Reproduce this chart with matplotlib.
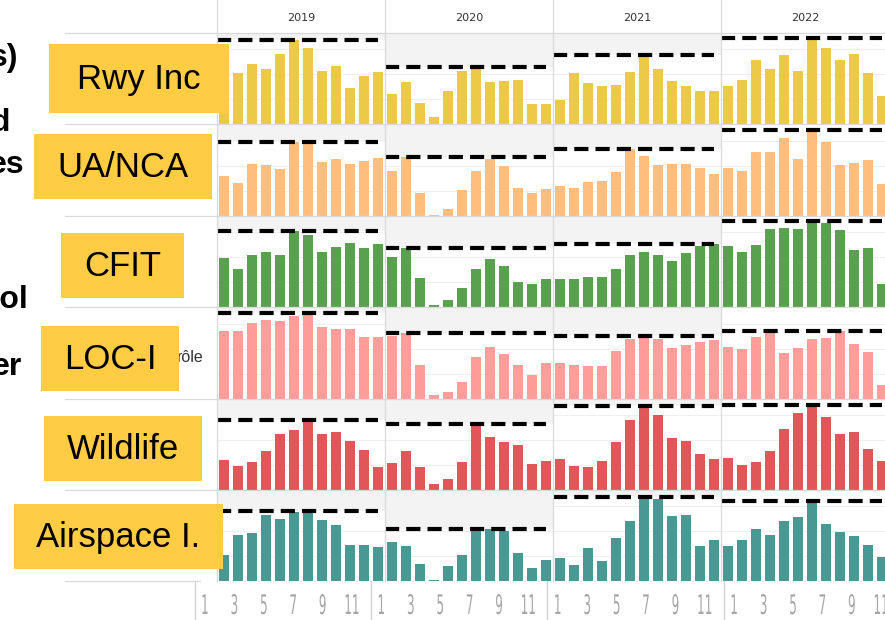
import numpy as np
import matplotlib
matplotlib.use("Agg")
import matplotlib.pyplot as plt
from matplotlib.patches import Rectangle, PathPatch
from matplotlib.textpath import TextPath
from matplotlib.font_manager import FontProperties
from matplotlib.transforms import Affine2D

# ---------------------------------------------------------------
# Data (monthly counts, 2019-2022, one list of 48 per category)
# ---------------------------------------------------------------
years = [2019, 2020, 2021, 2022]
months = list(range(1, 13))
tick_months = [1, 3, 5, 7, 9, 11]

categories = ["Rwy Inc", "UA/NCA", "CFIT", "LOC-I", "Wildlife", "Airspace I."]
colors = ["#EDC948", "#FFBE7D", "#59A14F", "#FF9D9A", "#E15759", "#499894"]

rwy_inc = [45, 51, 60, 55, 70, 84, 76, 53, 58, 36, 48, 52,
           30, 42, 21, 7, 33, 53, 57, 42, 43, 44, 20, 20,
           24, 51, 41, 38, 39, 52, 69, 55, 43, 38, 33, 33,
           38, 44, 64, 55, 69, 53, 86, 76, 64, 70, 51, 28]
ua_nca = [40, 33, 52, 51, 47, 74, 74, 54, 57, 52, 55, 58,
          45, 59, 23, 1, 7, 26, 45, 57, 50, 28, 23, 27,
          30, 28, 34, 35, 44, 67, 60, 51, 52, 52, 48, 42,
          48, 45, 64, 64, 78, 57, 86, 74, 51, 53, 56, 32]
cfit = [49, 38, 52, 55, 52, 76, 72, 55, 60, 64, 59, 63,
        50, 59, 29, 2, 7, 19, 38, 48, 41, 25, 23, 28,
        28, 28, 30, 30, 38, 52, 55, 52, 46, 54, 61, 63,
        61, 55, 62, 78, 79, 78, 86, 84, 77, 57, 59, 23]
loc_i = [68, 68, 76, 79, 78, 83, 86, 72, 70, 70, 62, 62,
         63, 66, 34, 4, 7, 17, 42, 52, 45, 34, 24, 36,
         36, 34, 33, 33, 48, 60, 63, 60, 51, 54, 57, 59,
         52, 50, 62, 67, 46, 51, 60, 61, 68, 55, 47, 14]
wildlife = [30, 24, 28, 39, 56, 60, 70, 56, 58, 49, 40, 23,
            27, 39, 23, 6, 11, 28, 66, 53, 48, 45, 26, 29,
            31, 24, 23, 29, 48, 70, 84, 75, 52, 49, 36, 31,
            32, 25, 28, 39, 61, 77, 85, 73, 56, 58, 41, 29]
airspace = [26, 46, 48, 66, 62, 69, 70, 61, 56, 36, 36, 34,
            39, 35, 17, 1, 15, 26, 52, 52, 50, 28, 13, 21,
            23, 16, 33, 20, 43, 60, 84, 82, 65, 66, 35, 41,
            35, 41, 52, 46, 60, 64, 80, 57, 49, 45, 36, 24]
series = [rwy_inc, ua_nca, cfit, loc_i, wildlife, airspace]

# years whose cell is shaded above the yearly max
shaded = [True, True, True, False]

# cut-off text at the left edge of the slide
left_texts = ["s)", "d", "es", "rol", "er"]

# ---------------------------------------------------------------
# Layout (pixels, figure is 885 x 620)
# ---------------------------------------------------------------
W, H = 885, 620
X0, CELL_W = 217, 168          # first year column, width per year
TOP, ROW_H = 33, 91.4          # header bottom, row height
YMAX = 91.4

fig = plt.figure(figsize=(W / 100, H / 100), dpi=100)
fig.patch.set_facecolor("white")

def px_rect(x, y, w, h):
    return [x / W, 1 - (y + h) / H, w / W, h / H]

for r, (vals, col) in enumerate(zip(series, colors)):
    ax = fig.add_axes(px_rect(X0, TOP + r * ROW_H, CELL_W * len(years), ROW_H))
    ax.set_facecolor("none")
    vals = np.array(vals)
    x = np.arange(len(vals)) + 1
    ax.hlines([25, 50, 75], 0.5, 48.5, colors="#efefef", lw=0.8, zorder=0)
    for yi in range(len(years)):
        yv = vals[yi * 12:(yi + 1) * 12]
        ymax = yv.max()
        if shaded[yi]:
            ax.add_patch(Rectangle((yi * 12 + 0.5, ymax), 12, YMAX - ymax,
                                   facecolor="#f3f3f3", edgecolor="none", zorder=0))
        ax.hlines(ymax, yi * 12 + 0.5, yi * 12 + 12, colors="black", lw=3,
                  linestyles=(0, (3.4, 1.7)), zorder=3)
    ax.bar(x, vals, width=0.72, color=col, zorder=2)
    ax.set_xlim(0.5, 48.5)
    ax.set_ylim(0, YMAX)
    ax.axis("off")

# overlay axes in pixel coordinates for frame, headers and labels
ov = fig.add_axes([0, 0, 1, 1])
ov.set_xlim(0, W)
ov.set_ylim(H, 0)
ov.axis("off")
ov.set_facecolor("none")

bottom = TOP + ROW_H * len(categories)
for r in range(len(categories) + 1):
    yy = TOP + r * ROW_H
    ov.plot([65, W if r < len(categories) else 200], [yy, yy],
            color="#d9d9d9", lw=0.9, zorder=1)
for yi, yr in enumerate(years):
    xx = X0 + yi * CELL_W
    ov.plot([xx, xx], [0, bottom], color="#d9d9d9", lw=0.9, zorder=1)
    ov.text(xx + CELL_W / 2, 18, str(yr), ha="center", va="center",
            fontsize=8, color="#333333", family="DejaVu Sans")

# bottom month labels (narrow, tall glyphs)
fp = FontProperties(family="DejaVu Sans")
step = 14.7
for yi in range(len(years)):
    xs = 205 + (yi * 12 - 0.5) * step - 3
    ov.plot([xs, xs], [bottom, H], color="#cfcfcf", lw=0.9)
    for m in tick_months:
        tp = TextPath((0, 0), str(m), size=10, prop=fp)
        bb = tp.get_extents()
        cx = 205 + (yi * 12 + m - 1) * step
        tr = Affine2D().translate(-(bb.x0 + bb.x1) / 2, 0).scale(1.2, -2.7).translate(cx, 614)
        ov.add_patch(PathPatch(tr.transform_path(tp), facecolor="#a6a6a6",
                               edgecolor="none", zorder=2))

# cut-off slide text on the left
left_pos = [(18, 66), (10, 131), (24, 173), (29, 308), (22, 375)]
for t, (xr, yb) in zip(left_texts, left_pos):
    ov.text(xr, yb, t, ha="right", va="baseline", fontsize=23,
            fontweight="bold", family="Liberation Sans", color="black")
ov.text(204, 362, "rôle", ha="right", va="baseline", fontsize=11.5,
        family="Liberation Sans", color="#333333")

# yellow category boxes
boxes = [(49, 44, 180, 69), (34, 134, 178, 65), (61, 233, 123, 65),
         (41, 326, 138, 65), (44, 416, 158, 65), (14, 504, 209, 65)]
for name, (bx, by, bw, bh) in zip(categories, boxes):
    ov.add_patch(Rectangle((bx, by), bw, bh, facecolor="#FFCC44",
                           edgecolor="none", zorder=5))
    ov.text(bx + bw / 2, by + bh / 2 + 1, name, ha="center", va="center",
            fontsize=25, family="Liberation Sans", color="black", zorder=6)

fig.savefig("out.png", dpi=100)
